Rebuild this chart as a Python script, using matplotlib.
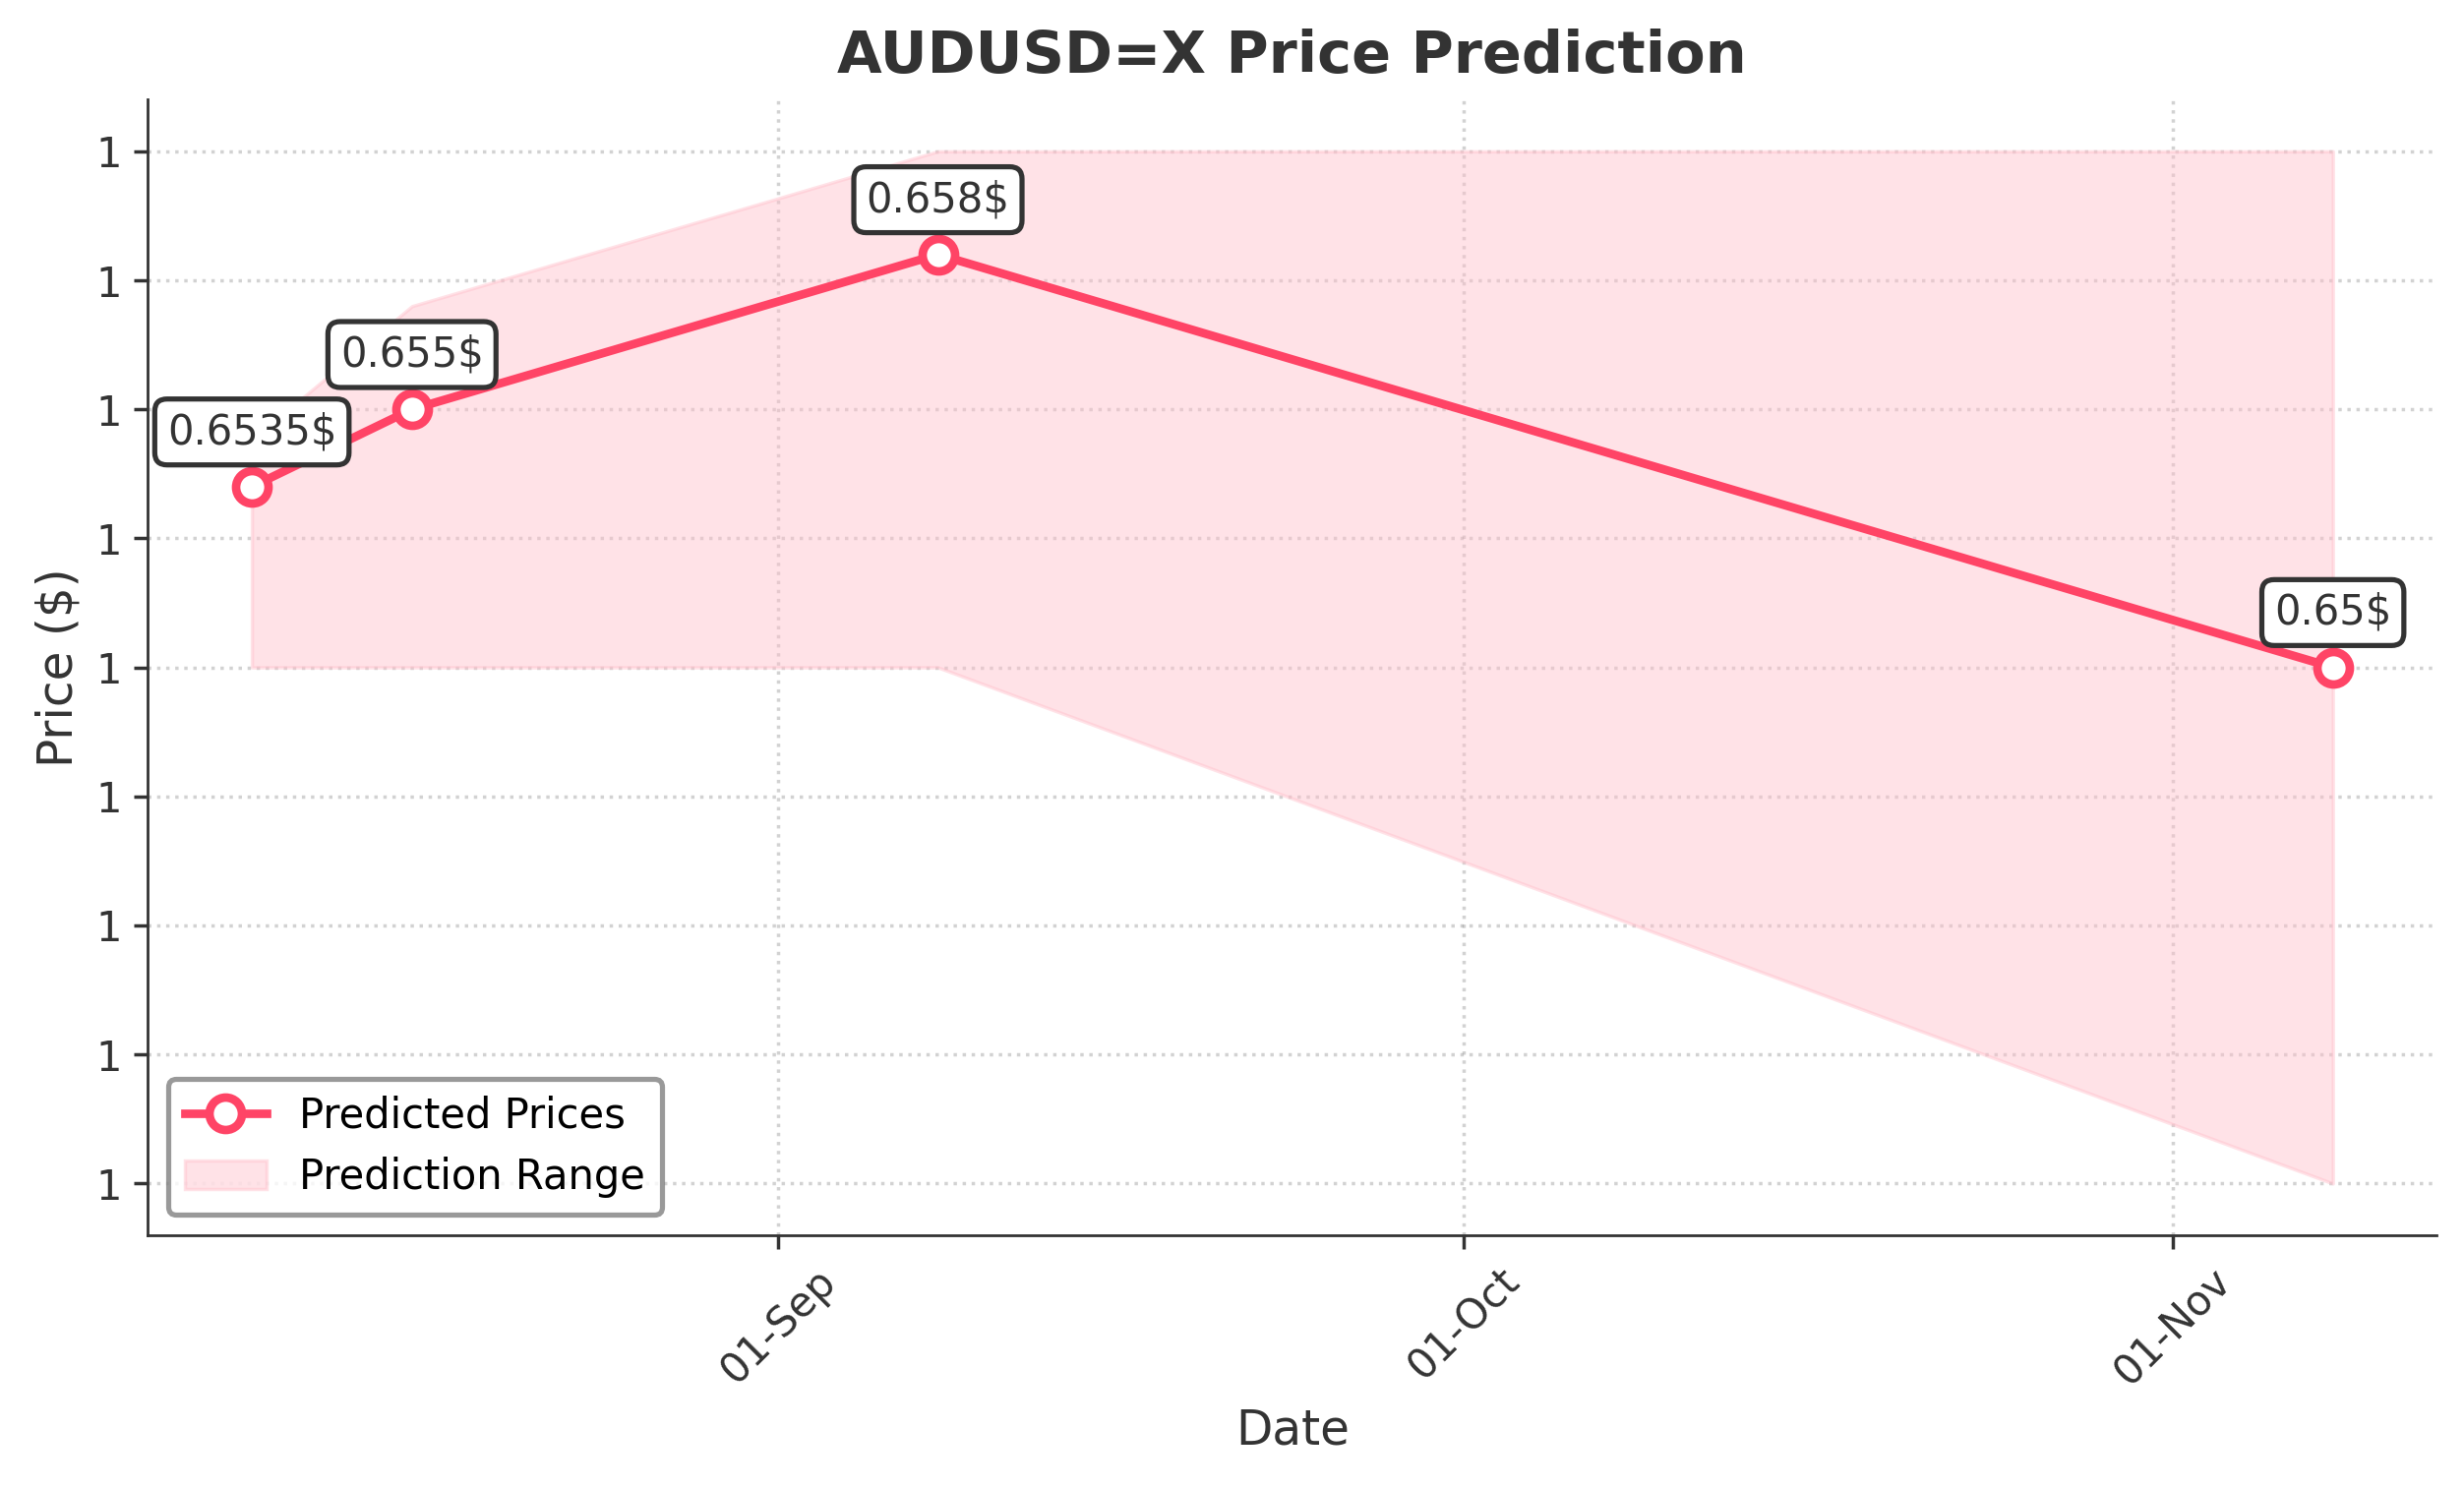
import matplotlib
matplotlib.use("Agg")
import matplotlib.pyplot as plt
import matplotlib.dates as mdates
from matplotlib.ticker import FormatStrFormatter
import pandas as pd

# predicted points
dates = pd.to_datetime(["2024-08-09", "2024-08-16", "2024-09-08", "2024-11-08"])
prices = [0.6535, 0.655, 0.658, 0.65]
# prediction range
range_low = [0.65, 0.65, 0.65, 0.64]
range_high = [0.6544, 0.657, 0.66, 0.66]

title = "AUDUSD=X Price Prediction"
line_color = "#FF4466"
text_color = "#333333"

plt.rcParams["font.family"] = "DejaVu Sans"
plt.rcParams["text.color"] = text_color
plt.rcParams["axes.labelcolor"] = text_color
plt.rcParams["xtick.color"] = text_color
plt.rcParams["ytick.color"] = text_color

fig = plt.figure(figsize=(10.02, 6.052), dpi=250)
ax = fig.add_axes([0.06, 0.17, 0.929, 0.763])

band = ax.fill_between(dates, range_low, range_high, color="pink", alpha=0.45,
                       label="Prediction Range")
line, = ax.plot(dates, prices, color=line_color, lw=2.5, marker="o", ms=9.5,
                mfc="white", mec=line_color, mew=2.5, label="Predicted Prices")

for d, p in zip(dates, prices):
    ax.annotate(f"{p}$", (d, p), xytext=(0, 10), textcoords="offset points",
                ha="center", va="bottom", fontsize=12, color=text_color,
                bbox=dict(boxstyle="round,pad=0.3", fc="white", ec=text_color, lw=1.5))

ax.set_title(title, fontsize=17, fontweight="bold", color=text_color, pad=8)
ax.set_xlabel("Date", fontsize=14)
ax.set_ylabel("Price ($)", fontsize=14)

ax.xaxis.set_major_locator(mdates.MonthLocator())
ax.xaxis.set_major_formatter(mdates.DateFormatter("%d-%b"))
ax.yaxis.set_major_formatter(FormatStrFormatter("%.0f"))
plt.setp(ax.get_xticklabels(), rotation=45, fontsize=12)
plt.setp(ax.get_yticklabels(), fontsize=12)
ax.tick_params(length=4, width=1)

ax.grid(True, linestyle=":", color="gray", alpha=0.35, lw=1)
ax.set_axisbelow(True)
for s in ["top", "right"]:
    ax.spines[s].set_visible(False)
for s in ["left", "bottom"]:
    ax.spines[s].set_color(text_color)

leg = ax.legend(handles=[line, band], loc="lower left", fontsize=12,
                frameon=True, fancybox=True, labelcolor="black")
leg.get_frame().set_edgecolor("gray")
leg.get_frame().set_linewidth(1.5)

fig.savefig("out.png", dpi=250)
